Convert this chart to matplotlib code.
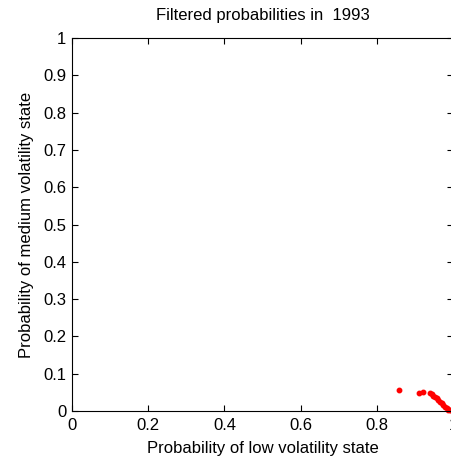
import matplotlib
matplotlib.use("Agg")
import matplotlib.pyplot as plt

# filtered probabilities
prob_low = [0.858, 0.911, 0.920, 0.940, 0.944, 0.948, 0.953, 0.957, 0.961,
            0.966, 0.970, 0.974, 0.979, 0.983, 0.988, 0.992, 0.996, 0.999]
prob_medium = [0.057, 0.047, 0.050, 0.047, 0.046, 0.041, 0.038, 0.034, 0.029,
               0.025, 0.021, 0.016, 0.012, 0.007, 0.004, 0.003, 0.002, 0.001]
ticks = [0, 0.2, 0.4, 0.6, 0.8, 1]
yticks = [0, 0.1, 0.2, 0.3, 0.4, 0.5, 0.6, 0.7, 0.8, 0.9, 1]

plt.rcParams["font.family"] = ["Liberation Sans", "DejaVu Sans"]

fig = plt.figure(figsize=(4.51, 4.61), dpi=100)
ax = fig.add_axes([72 / 451, 50 / 461, 381 / 451, 373 / 461])
ax.plot(prob_low, prob_medium, linestyle="none", marker="o", color="red",
        markersize=3.2, clip_on=False)
ax.set_xlim(0, 1)
ax.set_ylim(0, 1)
ax.set_xticks(ticks)
ax.set_xticklabels(["0", "0.2", "0.4", "0.6", "0.8", "1"])
ax.set_yticks(yticks)
ax.set_yticklabels(["0", "0.1", "0.2", "0.3", "0.4", "0.5", "0.6", "0.7", "0.8", "0.9", "1"])
ax.tick_params(direction="in", top=True, right=True, length=4, width=0.8,
               labelsize=12)
ax.tick_params(axis="x", pad=5)
ax.tick_params(axis="y", pad=4)
for spine in ax.spines.values():
    spine.set_linewidth(0.8)
ax.set_title("Filtered probabilities in  1993", fontsize=12, pad=13)
ax.set_xlabel("Probability of low volatility state", fontsize=12, labelpad=6)
ax.set_ylabel("Probability of medium volatility state", fontsize=12, labelpad=7)

fig.savefig("out.png", dpi=100)
